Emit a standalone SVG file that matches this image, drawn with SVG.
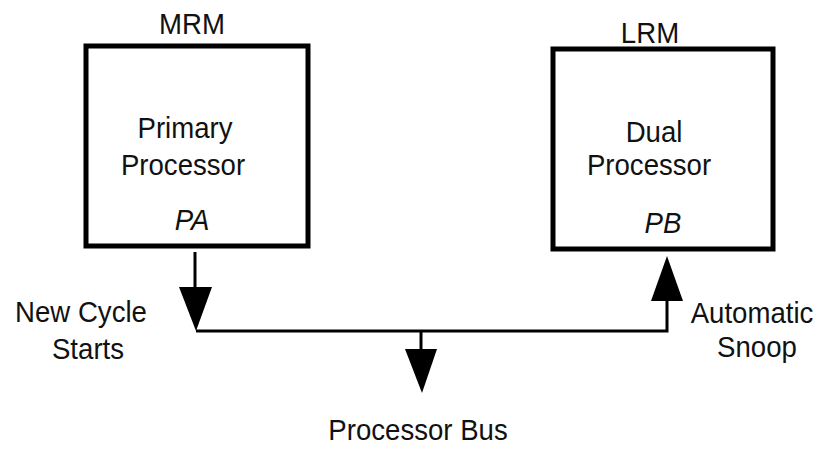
<svg xmlns="http://www.w3.org/2000/svg" width="818" height="451" viewBox="0 0 818 451">
<style>
.box{fill:#fff;stroke:#000;stroke-width:5}
.t{font-family:"Liberation Sans",Arial,sans-serif;font-size:30px;fill:#111;text-anchor:middle}
.i{font-style:italic}
.w{fill:none;stroke:#000;stroke-width:3}
.h{fill:#000;stroke:none}
</style>
<rect width="818" height="451" fill="#fff"/>
<g id="primary">
<rect class="box" x="86" y="46" width="222" height="200"/>
<text class="t" transform="translate(192 34) scale(0.92 1)">MRM</text>
<text class="t" transform="translate(185 138) scale(0.92 1)">Primary</text>
<text class="t" transform="translate(183 175) scale(0.92 1)">Processor</text>
<text class="t i" transform="translate(192 230) scale(0.92 1)">PA</text>
</g>
<g id="dual">
<rect class="box" x="553" y="49" width="220" height="200"/>
<text class="t" transform="translate(650 43) scale(0.92 1)">LRM</text>
<text class="t" transform="translate(654 142) scale(0.92 1)">Dual</text>
<text class="t" transform="translate(649 175) scale(0.92 1)">Processor</text>
<text class="t i" transform="translate(663 233) scale(0.92 1)">PB</text>
</g>
<g id="labels">
<text class="t" transform="translate(81 322) scale(0.92 1)">New Cycle</text>
<text class="t" transform="translate(88 359) scale(0.92 1)">Starts</text>
<text class="t" transform="translate(752 323) scale(0.92 1)">Automatic</text>
<text class="t" transform="translate(757 357) scale(0.92 1)">Snoop</text>
<text class="t" transform="translate(418 440) scale(0.92 1)">Processor Bus</text>
</g>
<g id="connectors">
<path class="w" d="M195 252 V290"/>
<polygon class="h" points="179,287 212,287 196,331"/>
<path class="w" d="M196 331 H667 V298"/>
<polygon class="h" points="651,301 683,301 667,256"/>
<path class="w" d="M421 331 V352"/>
<polygon class="h" points="405,349 437,349 422,393"/>
</g>
</svg>
